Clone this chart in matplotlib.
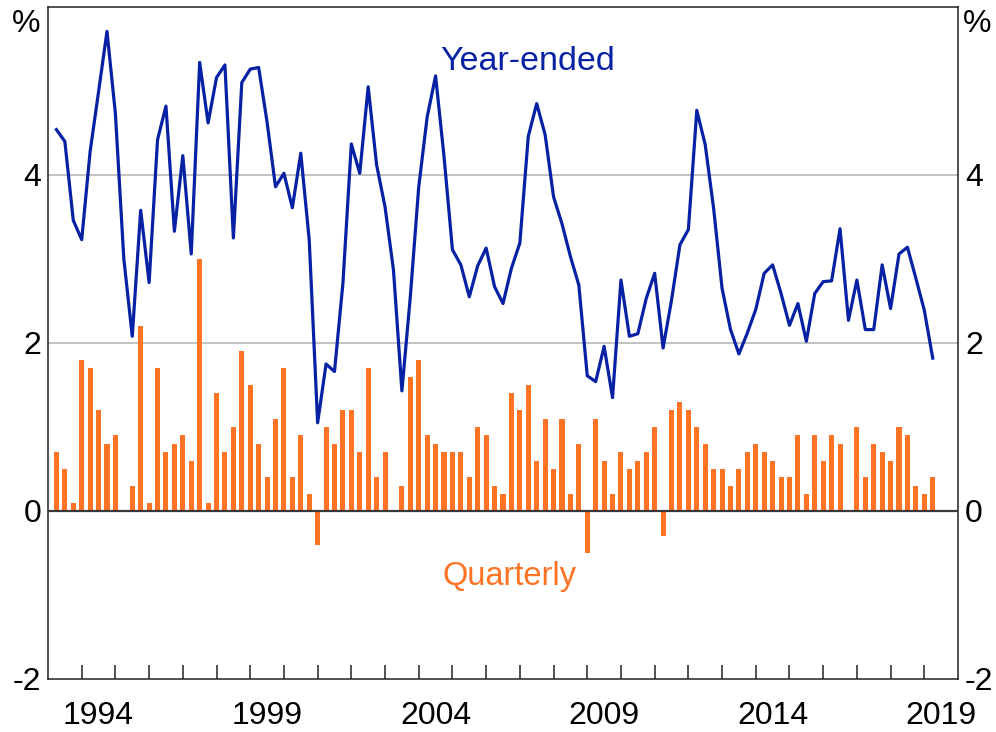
import numpy as np
import pandas as pd
import matplotlib
matplotlib.use('Agg')
import matplotlib.pyplot as plt

plt.rcParams['font.family'] = ['Liberation Sans', 'DejaVu Sans']
plt.rcParams['axes.unicode_minus'] = False

# quarterly data, 1993Q1 to 2019Q1
quarters = pd.period_range('1993Q1', '2019Q1', freq='Q')

quarterly = [
    0.7, 0.5, 0.1, 1.8, 1.7, 1.2, 0.8, 0.9, 0.0, 0.3,
    2.2, 0.1, 1.7, 0.7, 0.8, 0.9, 0.6, 3.0, 0.1, 1.4,
    0.7, 1.0, 1.9, 1.5, 0.8, 0.4, 1.1, 1.7, 0.4, 0.9,
    0.2, -0.4, 1.0, 0.8, 1.2, 1.2, 0.7, 1.7, 0.4, 0.7,
    0.0, 0.3, 1.6, 1.8, 0.9, 0.8, 0.7, 0.7, 0.7, 0.4,
    1.0, 0.9, 0.3, 0.2, 1.4, 1.2, 1.5, 0.6, 1.1, 0.5,
    1.1, 0.2, 0.8, -0.5, 1.1, 0.6, 0.2, 0.7, 0.5, 0.6,
    0.7, 1.0, -0.3, 1.2, 1.3, 1.2, 1.0, 0.8, 0.5, 0.5,
    0.3, 0.5, 0.7, 0.8, 0.7, 0.6, 0.4, 0.4, 0.9, 0.2,
    0.9, 0.6, 0.9, 0.8, 0.0, 1.0, 0.4, 0.8, 0.7, 0.6,
    1.0, 0.9, 0.3, 0.2, 0.4,
]

year_ended = [
    4.54, 4.40, 3.46, 3.23, 4.28, 4.99, 5.71, 4.73, 3.00, 2.08,
    3.58, 2.72, 4.42, 4.82, 3.33, 4.23, 3.06, 5.34, 4.62, 5.16,
    5.31, 3.25, 5.10, 5.26, 5.28, 4.63, 3.86, 4.02, 3.61, 4.26,
    3.23, 1.05, 1.75, 1.66, 2.71, 4.37, 4.02, 5.05, 4.12, 3.62,
    2.87, 1.43, 2.55, 3.86, 4.69, 5.18, 4.22, 3.11, 2.93, 2.55,
    2.92, 3.13, 2.67, 2.47, 2.89, 3.19, 4.46, 4.85, 4.48, 3.74,
    3.42, 3.03, 2.69, 1.61, 1.54, 1.96, 1.35, 2.75, 2.08, 2.11,
    2.53, 2.83, 1.94, 2.51, 3.17, 3.35, 4.77, 4.36, 3.60, 2.65,
    2.16, 1.87, 2.12, 2.40, 2.83, 2.93, 2.59, 2.21, 2.47, 2.02,
    2.59, 2.73, 2.74, 3.36, 2.27, 2.75, 2.16, 2.16, 2.93, 2.41,
    3.06, 3.14, 2.77, 2.39, 1.82,
]

blue = '#0621A3'
orange = '#FF7324'

# plot each quarter at the end of the quarter
x = np.array([q.year + q.quarter / 4 for q in quarters])

fig = plt.figure(figsize=(9.96, 7.32), dpi=100)
ax = fig.add_axes([48 / 996, 53 / 732, 910 / 996, 672 / 732])

for g in [2, 4]:
    ax.axhline(g, color='#BDBDBD', lw=1.3, zorder=1)

ax.bar(x, quarterly, width=0.15, color=orange, zorder=2)
ax.axhline(0, color='#3A3A3A', lw=1.6, zorder=3)
ax.plot(x, year_ended, color=blue, lw=2.3, zorder=4)

ax.set_xlim(1993, 2020)
ax.set_ylim(-2, 6)

# year tick marks, labels every 5 years centred on mid-year
ax.set_xticks(np.arange(1994, 2020))
ax.set_xticklabels([])
ax.tick_params(axis='x', which='major', direction='in', length=10, width=1.1, color='#222222')
lab_years = np.arange(1994, 2020, 5)
ax.set_xticks(lab_years + 0.5, [str(y) for y in lab_years], minor=True)
ax.tick_params(axis='x', which='minor', length=0, pad=16, labelsize=23)

ax.set_yticks([-2, 0, 2, 4])
ax.set_yticklabels(['-2', '0', '2', '4'])
ax.tick_params(axis='y', length=0, pad=5, labelsize=23, labelright=True)

for s in ax.spines.values():
    s.set_linewidth(1.1)
    s.set_color('#222222')

fig.text(40 / 996, 1 - 24 / 732, '%', ha='right', va='center', fontsize=23)
fig.text(963 / 996, 1 - 24 / 732, '%', ha='left', va='center', fontsize=23)

ax.text(2007.22, 5.25, 'Year-ended', color=blue, fontsize=24.5, ha='center', va='baseline')
ax.text(2006.70, -0.88, 'Quarterly', color=orange, fontsize=23.5, ha='center', va='baseline')

fig.savefig('out.png', dpi=100)
